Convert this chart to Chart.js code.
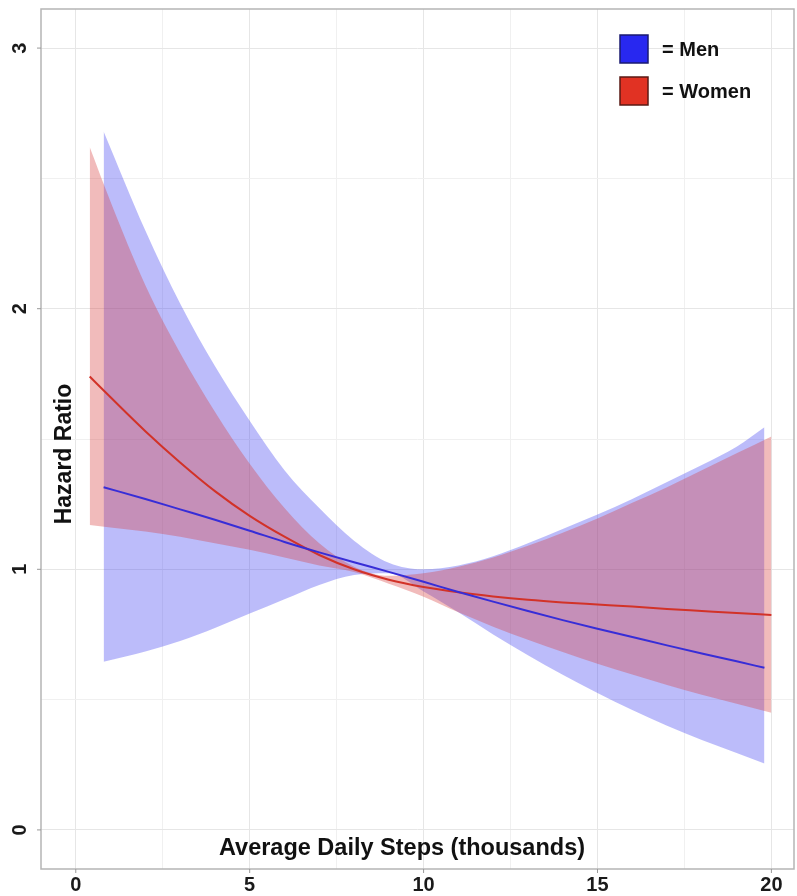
<!DOCTYPE html>
<html>
<head>
<meta charset="utf-8">
<script src="https://cdn.jsdelivr.net/npm/chart.js@4.4.1/dist/chart.umd.min.js"></script>
<style>
  html, body { margin: 0; padding: 0; background: #fff; }
</style>
</head>
<body>
<canvas id="chart" width="797" height="896"></canvas>
<script>
// Men: steps (thousands), hazard ratio and confidence band
const menSteps = [0.8, 2, 3, 4, 5, 6, 7, 8, 9, 10, 11, 12, 13, 14, 15, 16, 17, 18, 19, 19.8];
const menHR    = [1.315, 1.27, 1.23, 1.19, 1.148, 1.105, 1.065, 1.027, 0.99, 0.952, 0.913, 0.876, 0.84, 0.805, 0.772, 0.74, 0.708, 0.677, 0.647, 0.622];
const menUpper = [2.68, 2.30, 2.02, 1.78, 1.57, 1.38, 1.235, 1.11, 1.025, 1.0, 1.015, 1.05, 1.10, 1.155, 1.21, 1.27, 1.335, 1.40, 1.47, 1.545];
const menLower = [0.645, 0.685, 0.725, 0.775, 0.83, 0.885, 0.94, 0.978, 0.985, 0.915, 0.835, 0.75, 0.67, 0.595, 0.525, 0.46, 0.40, 0.345, 0.295, 0.255];

// Women
const womenSteps = [0.4, 1, 2, 3, 4, 5, 6, 7, 8, 9, 10, 11, 12, 13, 14, 15, 16, 17, 18, 19, 20];
const womenHR    = [1.74, 1.66, 1.53, 1.41, 1.30, 1.205, 1.125, 1.055, 1.0, 0.96, 0.932, 0.912, 0.896, 0.883, 0.873, 0.865, 0.857, 0.848, 0.84, 0.832, 0.825];
const womenUpper = [2.62, 2.41, 2.09, 1.83, 1.605, 1.405, 1.235, 1.10, 1.01, 0.975, 0.985, 1.01, 1.045, 1.09, 1.14, 1.195, 1.255, 1.315, 1.38, 1.445, 1.51];
const womenLower = [1.17, 1.16, 1.145, 1.125, 1.10, 1.075, 1.045, 1.015, 0.99, 0.945, 0.895, 0.835, 0.78, 0.73, 0.683, 0.638, 0.596, 0.556, 0.519, 0.484, 0.45];

const xTicks = [0, 5, 10, 15, 20];
const yTicks = [0, 1, 2, 3];
const legendLabels = ['= Men', '= Women'];
const xTitle = 'Average Daily Steps (thousands)';
const yTitle = 'Hazard Ratio';

const blueLine = 'rgb(55, 45, 215)';
const redLine = 'rgb(210, 50, 40)';
const blueFill = 'rgba(70, 70, 240, 0.36)';
const redFill = 'rgba(215, 60, 60, 0.35)';

function pts(xs, ys) {
  return xs.map((x, i) => ({ x: x, y: ys[i] }));
}

function band(xs, ys, fill, color) {
  return {
    data: pts(xs, ys),
    borderWidth: 0,
    pointRadius: 0,
    fill: fill,
    backgroundColor: color,
    cubicInterpolationMode: 'monotone'
  };
}

const font = '"Liberation Sans", Arial, sans-serif';

const extras = {
  id: 'extras',
  beforeDraw(chart) {
    const ctx = chart.ctx;
    ctx.save();
    ctx.fillStyle = '#fff';
    ctx.fillRect(0, 0, chart.width, chart.height);
    ctx.restore();
  },
  afterDraw(chart) {
    const { ctx, chartArea: a, scales: { x, y } } = chart;
    ctx.save();

    // panel frame
    ctx.strokeStyle = '#b5b5b5';
    ctx.lineWidth = 1.5;
    ctx.strokeRect(a.left, a.top, a.right - a.left, a.bottom - a.top);

    // tick marks
    ctx.strokeStyle = '#999';
    ctx.lineWidth = 1;
    yTicks.forEach(v => {
      const py = y.getPixelForValue(v);
      ctx.beginPath(); ctx.moveTo(a.left - 4, py); ctx.lineTo(a.left, py); ctx.stroke();
    });
    xTicks.forEach(v => {
      const px = x.getPixelForValue(v);
      ctx.beginPath(); ctx.moveTo(px, a.bottom); ctx.lineTo(px, a.bottom + 4); ctx.stroke();
    });

    // tick labels
    ctx.fillStyle = '#1a1a1a';
    ctx.font = 'bold 20px ' + font;
    ctx.textAlign = 'center';
    ctx.textBaseline = 'middle';
    xTicks.forEach(v => {
      ctx.fillText(String(v), x.getPixelForValue(v), a.bottom + 16);
    });
    yTicks.forEach(v => {
      ctx.save();
      ctx.translate(a.left - 21, y.getPixelForValue(v));
      ctx.rotate(-Math.PI / 2);
      ctx.fillText(String(v), 0, 0);
      ctx.restore();
    });

    // axis titles inside the panel
    ctx.fillStyle = '#111';
    ctx.font = 'bold 23.5px ' + font;
    ctx.fillText(xTitle, 402, 849);
    ctx.font = 'bold 23px ' + font;
    ctx.save();
    ctx.translate(65, 454);
    ctx.rotate(-Math.PI / 2);
    ctx.fillText(yTitle, 0, 0);
    ctx.restore();

    // legend
    const boxes = [['rgb(40, 40, 240)', '#1a1a70'], ['rgb(225, 50, 35)', '#5a1a14']];
    ctx.font = 'bold 20px ' + font;
    ctx.textAlign = 'left';
    boxes.forEach((b, i) => {
      const top = 35 + i * 42;
      ctx.fillStyle = b[0];
      ctx.fillRect(620, top, 28, 28);
      ctx.strokeStyle = b[1];
      ctx.lineWidth = 1.5;
      ctx.strokeRect(620, top, 28, 28);
      ctx.fillStyle = '#111';
      ctx.fillText(legendLabels[i], 662, top + 15);
    });

    ctx.restore();
  }
};

const config = {
  type: 'line',
  data: {
    datasets: [
      { data: pts(menSteps, menHR), borderColor: blueLine, borderWidth: 2, pointRadius: 0, fill: false, cubicInterpolationMode: 'monotone' },
      { data: pts(womenSteps, womenHR), borderColor: redLine, borderWidth: 2, pointRadius: 0, fill: false, cubicInterpolationMode: 'monotone' },
      band(womenSteps, womenUpper, '+1', redFill),
      band(womenSteps, womenLower, false, redFill),
      band(menSteps, menUpper, '+1', blueFill),
      band(menSteps, menLower, false, blueFill)
    ]
  },
  options: {
    responsive: false,
    animation: false,
    events: [],
    layout: { padding: { left: 41, top: 9, right: 3, bottom: 27 } },
    plugins: { legend: { display: false }, tooltip: { enabled: false } },
    scales: {
      x: {
        type: 'linear',
        min: -1,
        max: 20.65,
        ticks: { display: false, stepSize: 2.5, includeBounds: false },
        grid: { color: c => (c.tick && c.tick.value % 5 === 0) ? '#e6e6e6' : '#f0f0f0', drawTicks: false },
        border: { display: false },
        afterFit: s => { s.height = 0; }
      },
      y: {
        type: 'linear',
        min: -0.15,
        max: 3.15,
        ticks: { display: false, stepSize: 0.5, includeBounds: false },
        grid: { color: c => (c.tick && c.tick.value % 1 === 0) ? '#e6e6e6' : '#f0f0f0', drawTicks: false },
        border: { display: false },
        afterFit: s => { s.width = 0; }
      }
    }
  },
  plugins: [extras]
};

const myChart = new Chart(document.getElementById('chart'), config);
</script>
</body>
</html>
